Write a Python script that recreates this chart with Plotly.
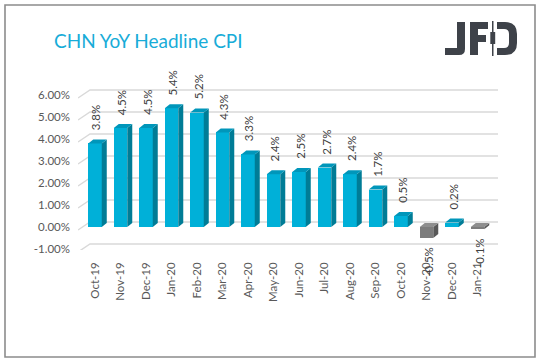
import plotly.graph_objects as go

# ---- data ----
months = ["Oct-19", "Nov-19", "Dec-19", "Jan-20", "Feb-20", "Mar-20", "Apr-20", "May-20",
          "Jun-20", "Jul-20", "Aug-20", "Sep-20", "Oct-20", "Nov-20", "Dec-20", "Jan-21"]
cpi_yoy = [3.8, 4.5, 4.5, 5.4, 5.2, 4.3, 3.3, 2.4, 2.5, 2.7, 2.4, 1.7, 0.5, -0.5, 0.2, -0.1]
y_ticks = [-1, 0, 1, 2, 3, 4, 5, 6]
y_tick_labels = ["-1.00%", "0.00%", "1.00%", "2.00%", "3.00%", "4.00%", "5.00%", "6.00%"]
title_text = "CHN YoY Headline CPI"

# ---- geometry / style ----
W, H = 544, 364
ML, MR, MT, MB = 78, 46, 85, 114
PW, PH = W - ML - MR, H - MT - MB
UNIT_X, UNIT_Y = 25.5, 22.0
X0_PX, Y0_PX = 95.0, 227.0
x_range = [(ML - X0_PX) / UNIT_X, (W - MR - X0_PX) / UNIT_X]
y_range = [-(H - MB - Y0_PX) / UNIT_Y, (Y0_PX - MT) / UNIT_Y]

BAR_W = 0.53
DX = 5 / UNIT_X
DY = 4 / UNIT_Y
POS = dict(front="#00B0D8", side="#007C96", top="#0096BA")
NEG = dict(front="#7C7C7C", side="#585858", top="#8E8E8E")
FONT = "Lato, 'Open Sans', sans-serif"


def ppx(px):
    return (px - ML) / PW


def ppy(py):
    return (H - MB - py) / PH


def poly(pts):
    return "M " + " L ".join(f"{a},{b}" for a, b in pts) + " Z"


xs = list(range(len(months)))
fig = go.Figure()
fig.add_trace(go.Bar(
    x=xs, y=cpi_yoy, width=BAR_W,
    marker=dict(color=[POS["front"] if v >= 0 else NEG["front"] for v in cpi_yoy], line=dict(width=0)),
    hoverinfo="skip",
))

shapes = []
# 3D-style gridlines (front edge slanting to the back wall)
xb = (90 - X0_PX) / UNIT_X
for t in y_ticks:
    shapes.append(dict(type="path", xref="x", yref="y", layer="below",
                       path=f"M {x_range[0]},{t - 3 / UNIT_Y} L {xb},{t + 5 / UNIT_Y} L {x_range[1]},{t + 5 / UNIT_Y}",
                       line=dict(color="#D9D9D9", width=1.4)))

annotations = []
for i, v in enumerate(cpi_yoy):
    c = POS if v >= 0 else NEG
    xl, xr = i - BAR_W / 2, i + BAR_W / 2
    lo, hi = min(0, v), max(0, v)
    side = [(xr, lo), (xr + DX, lo + DY), (xr + DX, hi + DY), (xr, hi)]
    top = [(xl, hi), (xl + DX, hi + DY), (xr + DX, hi + DY), (xr, hi)]
    shapes.append(dict(type="path", xref="x", yref="y", layer="above", path=poly(side),
                       fillcolor=c["side"], line=dict(width=0)))
    shapes.append(dict(type="path", xref="x", yref="y", layer="above", path=poly(top),
                       fillcolor=c["top"], line=dict(width=0)))
    if v >= 0:
        annotations.append(dict(x=i + 0.05, y=v + DY, xref="x", yref="y", text=f"{v:.1f}%",
                                textangle=-90, showarrow=False, yanchor="bottom", xanchor="center",
                                yshift=7, font=dict(family=FONT, size=11.5, color="#404040")))
    else:
        annotations.append(dict(x=i + 0.05, y=v, xref="x", yref="y", text=f"{v:.1f}%",
                                textangle=-90, showarrow=False, yanchor="top", xanchor="center",
                                yshift=-7, font=dict(family=FONT, size=11.5, color="#404040")))

# border
shapes.append(dict(type="rect", xref="paper", yref="paper",
                   x0=ppx(5), x1=ppx(535), y0=ppy(357), y1=ppy(5),
                   line=dict(color="#8C8C8C", width=1.6), fillcolor="rgba(0,0,0,0)", layer="above"))

# JFD logo
LOGO = "#3E4249"


def logo_path(pts_cmds):
    out = []
    for cmd in pts_cmds:
        if isinstance(cmd, str):
            out.append(cmd)
        else:
            out.append(f"{ppx(cmd[0])},{ppy(cmd[1])}")
    return " ".join(out)


logo_shapes = [
    # J
    ["M", (457, 22), "L", (465, 22), "L", (465, 49), "Q", (465, 55), (459, 55), "L", (445, 55),
     "L", (445, 48), "L", (457, 48), "Z"],
    # F
    ["M", (470, 22), "L", (488, 22), "L", (488, 29), "L", (478, 29), "L", (478, 35), "L", (486, 35),
     "L", (486, 42), "L", (478, 42), "L", (478, 55), "L", (470, 55), "Z"],
    # candle wick
    ["M", (492, 21), "L", (493.5, 21), "L", (493.5, 56), "L", (492, 56), "Z"],
    # candle body
    ["M", (490.3, 32), "L", (495.2, 32), "L", (495.2, 44), "L", (490.3, 44), "Z"],
    # D (open on the left)
    ["M", (497, 22), "L", (505, 22), "Q", (517, 22), (517, 34), "L", (517, 43), "Q", (517, 55), (505, 55),
     "L", (497, 55), "L", (497, 48), "L", (504, 48), "Q", (509, 48), (509, 43), "L", (509, 34),
     "Q", (509, 29), (504, 29), "L", (497, 29), "Z"],
]
for p in logo_shapes:
    shapes.append(dict(type="path", xref="paper", yref="paper", path=logo_path(p),
                       fillcolor=LOGO, line=dict(width=0), layer="above"))

annotations.append(dict(x=ppx(52), y=ppy(40), xref="paper", yref="paper", text=title_text,
                        showarrow=False, xanchor="left", yanchor="middle",
                        font=dict(family=FONT, size=19, color="#18ACD8")))

fig.update_layout(
    width=W, height=H,
    margin=dict(l=ML, r=MR, t=MT, b=MB, pad=0),
    paper_bgcolor="white", plot_bgcolor="white",
    showlegend=False,
    bargap=0,
    shapes=shapes,
    annotations=annotations,
    xaxis=dict(range=x_range, tickmode="array", tickvals=xs, ticktext=months, tickangle=-90,
               showgrid=False, zeroline=False, showline=False, ticks="",
               ticklabelstandoff=9,
               tickfont=dict(family=FONT, size=11.5, color="#595959")),
    yaxis=dict(range=y_range, tickmode="array", tickvals=y_ticks, ticktext=y_tick_labels,
               showgrid=False, zeroline=False, showline=False, ticks="",
               ticklabelstandoff=7,
               tickfont=dict(family=FONT, size=11.5, color="#595959")),
)

fig.write_html("out.html", config={"displayModeBar": False},
               post_script="document.body.style.margin='0';document.body.style.overflow='hidden';")
